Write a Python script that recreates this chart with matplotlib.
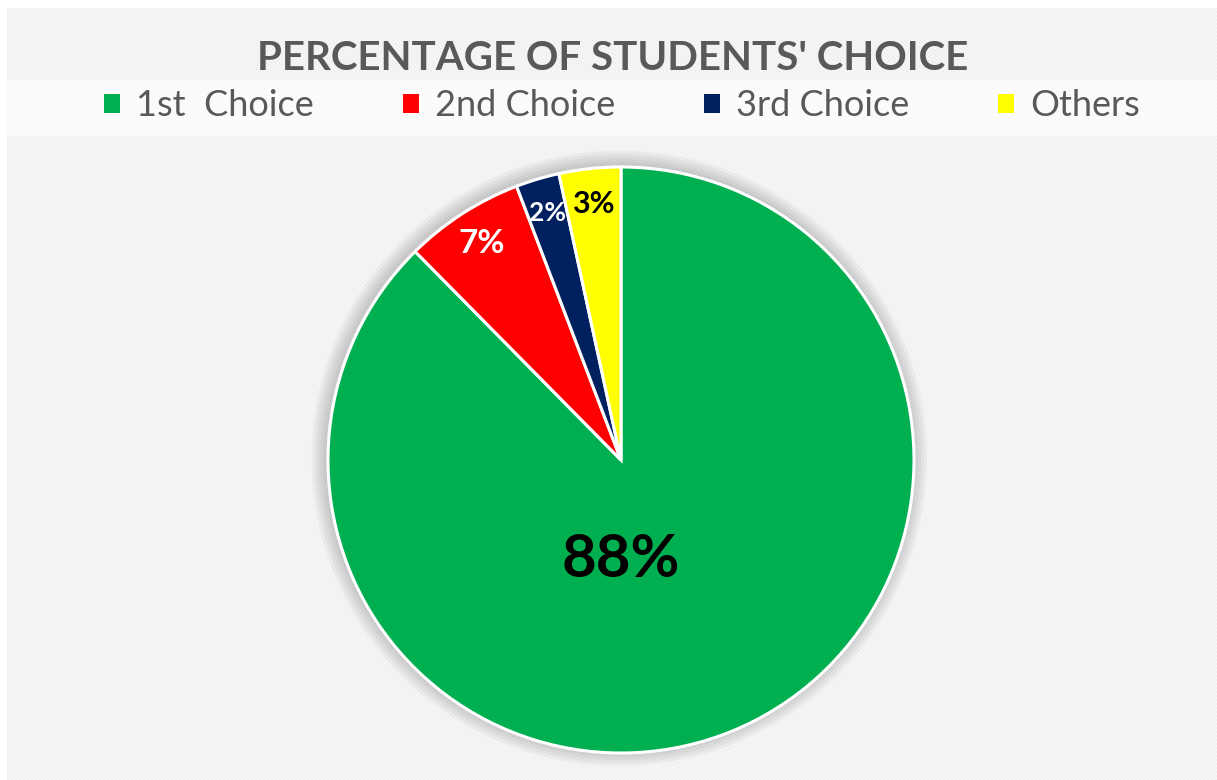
import numpy as np
import matplotlib
matplotlib.use("Agg")
import matplotlib.pyplot as plt
from matplotlib.patches import Circle

# ---- data ----
choices = ["1st  Choice", "2nd Choice", "3rd Choice", "Others"]
shares = [87.6, 6.6, 2.4, 3.4]
colors = ["#00B050", "#FF0000", "#002060", "#FFFF00"]
label_colors = ["black", "white", "white", "black"]
label_sizes = [43, 24, 19, 22]
title = "PERCENTAGE OF STUDENTS' CHOICE"

FONT = "Lato"
W, H = 1217, 780
fig = plt.figure(figsize=(W / 100, H / 100), dpi=100)

# ---- striped background ----
yy, xx = np.mgrid[0:H, 0:W]
stripe = ((xx - yy) % 4) < 1.5
bg = np.where(stripe, 0.94, 0.97)
band = (yy >= 80) & (yy < 136)
bg = np.where(band, np.where(stripe, 0.978, 0.99), bg)
bg[:, :7] = 1.0
bg[:8, :] = 1.0
bgax = fig.add_axes([0, 0, 1, 1])
bgax.imshow(np.dstack([bg, bg, bg]), extent=(0, W, H, 0), interpolation="nearest", aspect="auto")
bgax.set_axis_off()

# ---- pie ----
cx, cy, r = 621, 460, 293
ax = fig.add_axes([(cx - r) / W, (H - cy - r) / H, 2 * r / W, 2 * r / H])
ax.set_axis_off()
# soft shadow / glow
for i in range(5):
    c = Circle((-0.006, 0.006), 1.0 + 0.01 * (5 - i), color="black", alpha=0.035, lw=0, zorder=0)
    c.set_clip_on(False)
    ax.add_patch(c)

wedges, texts, autotexts = ax.pie(
    shares, colors=colors, startangle=90, counterclock=False,
    autopct=lambda p: f"{int(round(p))}%", pctdistance=0.88,
    wedgeprops=dict(edgecolor="white", linewidth=2.2, zorder=2),
    radius=1.0,
)
ax.set_xlim(-1.0, 1.0)
ax.set_ylim(-1.0, 1.0)
for w in wedges:
    w.set_clip_on(False)
for t, c, s in zip(autotexts, label_colors, label_sizes):
    t.set_color(c)
    t.set_fontsize(s)
    t.set_fontweight("bold")
    t.set_fontfamily(FONT)
    t.set_zorder(5)
autotexts[0].set_position((0.0, -0.34))

# ---- title ----
fig.text(613 / W, 1 - 58 / H, title, ha="center", va="center",
         fontsize=29, fontweight="bold", color="#595959", fontfamily=FONT)

# ---- legend ----
leg = fig.legend(wedges, choices, loc="center", bbox_to_anchor=(622 / W, 1 - 106 / H),
                 ncol=4, frameon=False, handlelength=0.45, handleheight=0.45,
                 handletextpad=0.45, columnspacing=2.45,
                 prop=dict(family=FONT, size=26))
for t in leg.get_texts():
    t.set_color("#595959")
for h in leg.legend_handles:
    h.set_edgecolor("none")

fig.savefig("out.png", dpi=100)
